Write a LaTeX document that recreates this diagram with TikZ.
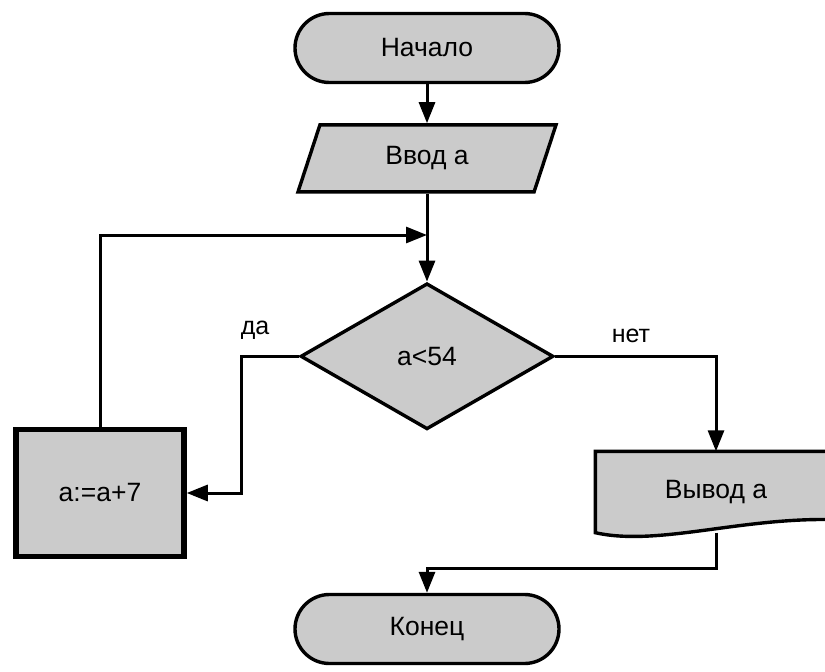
\documentclass[tikz,border=0pt]{standalone}
\usepackage{fontspec}
\setmainfont{Liberation Sans}
\usetikzlibrary{arrows.meta,positioning,shapes.geometric,shapes.misc,backgrounds}
\definecolor{blockgray}{RGB}{203,203,203}

\begin{document}
\begin{tikzpicture}[
            x=1pt, y=-1pt,
            base/.style={
            draw=black,
            fill=blockgray,
            line width=3.4pt,
            inner sep=0pt,
            font=\fontsize{26.5}{30}\selectfont},
        terminal/.style={base, rounded rectangle,
            minimum width=264pt, minimum height=69pt},
        inout/.style={base, trapezium,
            trapezium left angle=47, trapezium right angle=133,
            trapezium stretches body,
            minimum width=258pt, minimum height=67pt},
        decision/.style={base, diamond,
            minimum width=253pt, minimum height=146pt},
        process/.style={base, rectangle, line width=5.5pt,
            minimum width=168pt, minimum height=127pt},
        docbox/.style={base, draw=none, fill=none,
            minimum width=238pt, minimum height=78pt},
        lbltext/.style={font=\fontsize{25}{30}\selectfont},
        flow/.style={line width=3pt, -{Triangle[length=21pt,width=16pt]}},
        node distance=39pt
        ]
        \useasboundingbox (0,0) rectangle (825,672);

        \node[terminal] (start) at (427,48) {Начало};
        \node[inout,below=of start] (input) {Ввод а};
        \node[decision,below=88pt of input] (test) {a<54};
        \node[process] (update) at (100,493) {a:=a+7};
        \node[docbox] (output) at (716,492) {Вывод а};
        \node[terminal] (stop) at (427,629) {Конец};
        \coordinate (merge) at (input.south |- 0,235);

        % document shape behind its text
        \begin{scope}[on background layer]
            \draw[base] (output.south west) -- (output.north west)
                -- (output.north east) -- ([shift={(0,-13)}]output.south east)
                .. controls ([shift={(-95,-16)}]output.south east)
                and ([shift={(63,14)}]output.south west) .. (output.south west)
                -- cycle;
        \end{scope}

        \draw[flow] (start.south) -- (input.north);
        \draw[flow] (input.south) -- (test.north);
        \draw[flow] (update.north) |- (merge);
        \draw[flow] (test.west) -- ++(-57,0) |- (update.east);
        \draw[flow] (test.east) -| (output.north);
        \draw[flow] (output.south) -- ++(0,36) -| (stop.north);

        \node[lbltext] (yes) at (255,330) {да};
        \node[lbltext] (no) at (631,336) {нет};
        \end{tikzpicture}
\end{document}
